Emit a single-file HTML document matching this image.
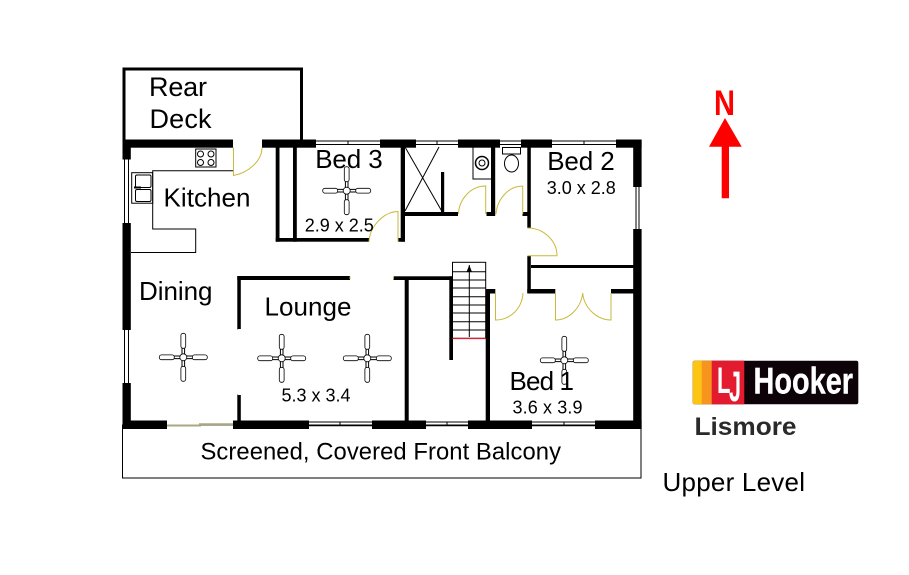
<!DOCTYPE html>
<html><head><meta charset="utf-8"><style>html,body{margin:0;padding:0;background:#fff}svg{display:block}text{font-family:"Liberation Sans",sans-serif;fill:#000}</style></head><body>
<svg xmlns="http://www.w3.org/2000/svg" width="909" height="575" viewBox="0 0 909 575">
<defs>
<g id="fan" fill="#fff" stroke="#000" stroke-width="0.8">
<path d="M0-10V10M-10 0H10" stroke-width="3.6"/><path d="M0-10V10M-10 0H10" stroke="#fff" stroke-width="1.6"/>
<rect x="-2.4" y="-24" width="4.8" height="15" rx="2.2"/><rect x="-2.4" y="9" width="4.8" height="15" rx="2.2"/>
<rect x="-24" y="-2.4" width="15" height="4.8" rx="2.2"/><rect x="9" y="-2.4" width="15" height="4.8" rx="2.2"/>
<circle r="3.5"/>
</g>
</defs>
<rect width="909" height="575" fill="#fff"/>
<!-- balcony -->
<rect x="122.5" y="425" width="518.5" height="53" fill="none" stroke="#000" stroke-width="1"/>
<!-- rear deck -->
<path d="M124 140V69H301.5V140" fill="none" stroke="#000" stroke-width="3"/>
<g fill="#000">
<!-- top wall -->
<rect x="122.5" y="139.5" width="110.5" height="8.2"/><rect x="262" y="139.5" width="54" height="8.2"/><rect x="380" y="139.5" width="36" height="8.2"/><rect x="458" y="139.5" width="42" height="8.2"/><rect x="521" y="139.5" width="31" height="8.2"/><rect x="616" y="139.5" width="25.6" height="8.2"/>
<!-- left wall -->
<rect x="122.5" y="139.5" width="8.3" height="20"/><rect x="122.5" y="223" width="8.3" height="107"/><rect x="122.5" y="383" width="8.3" height="46"/>
<!-- bottom wall -->
<rect x="122.5" y="420.5" width="44.5" height="8.5"/><rect x="233" y="420.5" width="76" height="8.5"/><rect x="372" y="420.5" width="54" height="8.5"/><rect x="468" y="420.5" width="64" height="8.5"/><rect x="595" y="420.5" width="46.6" height="8.5"/>
<!-- right wall -->
<rect x="633.2" y="139.5" width="8.4" height="47.5"/><rect x="633.2" y="229" width="8.4" height="200"/>
<!-- bed 3 -->
<rect x="275.7" y="147" width="3.8" height="94.7"/><rect x="293" y="147" width="3.8" height="94.7"/><rect x="275.7" y="238" width="93.3" height="3.7"/><rect x="398" y="238" width="7" height="3.7"/><rect x="400.7" y="147" width="4.3" height="94.7"/>
<!-- shower / baths -->
<rect x="405" y="212" width="53" height="4"/><rect x="441" y="172" width="3.2" height="42"/><rect x="491" y="147" width="4.2" height="69"/><rect x="486.5" y="212" width="8" height="4"/><rect x="527.3" y="147" width="3.5" height="81"/><rect x="522.5" y="212" width="8" height="4"/>
<!-- hall right -->
<rect x="527.3" y="256" width="3.5" height="37"/><rect x="531" y="265" width="102.5" height="3"/><rect x="527.3" y="289" width="28" height="4.5"/><rect x="611" y="289" width="22.5" height="4.5"/><rect x="485.7" y="289" width="9.6" height="4.5"/><rect x="485.7" y="289" width="4.3" height="132"/>
<!-- stair walls -->
<rect x="449.3" y="276.3" width="3.7" height="83.7"/><rect x="393.5" y="276.3" width="59.5" height="3.7"/><rect x="404.7" y="277" width="4" height="144"/>
<!-- lounge -->
<rect x="237.3" y="276" width="112.7" height="4"/><rect x="237.3" y="276" width="3.5" height="53"/><rect x="237.3" y="395" width="3.5" height="26"/>
<!-- arrows in stair -->
<path d="M469.3 265L466.5 272H472Z"/>
</g>
<!-- windows -->
<g stroke="#000" stroke-width="1" fill="none">
<path d="M316 141H380M316 144.5H380M348 141V144.5M416 141H458M416 144.5H458M437 141V144.5M500 141H521M500 144.5H521M552 141H616M552 144.5H616M584 141V144.5"/>
<path d="M124.5 159V223M128.5 159V223M124.5 330V383M128.5 330V383"/>
<path d="M636 187V229M639 187V229"/>
<path d="M309 422H372M309 425.8H372M340 422V425.8M426 422H468M426 425.8H468M447 422V425.8M532 422H595M532 425.8H595M564 422V425.8"/>
</g>
<path d="M167 425.5H200V424.3H233" fill="none" stroke="#a8a880" stroke-width="2"/>
<!-- kitchen benches -->
<g fill="none" stroke="#000" stroke-width="1">
<path d="M233 170.7H152.7V229H195.7V252.5H131"/>
<rect x="131.7" y="172.7" width="21" height="30.5"/>
<rect x="135.5" y="175" width="15.5" height="12.5" rx="1.5"/><rect x="135.5" y="189.5" width="15.5" height="12" rx="1.5"/>
<path d="M134 187.5H141" stroke-width="2"/>
<rect x="195.7" y="149" width="20.3" height="18"/>
<circle cx="200.5" cy="154" r="3"/><circle cx="211" cy="154" r="3"/><circle cx="200.5" cy="162.5" r="3"/><circle cx="211" cy="162.5" r="3"/>
<!-- shower X -->
<path d="M405 147L441.7 211M405 211L439 147"/>
<!-- basin -->
<path d="M473 147V179H491"/>
<circle cx="482" cy="163" r="6.5" stroke-width="1.5"/><circle cx="482" cy="163" r="3"/>
<!-- toilet -->
<rect x="502.5" y="147.5" width="18" height="6.5" fill="#fff"/><ellipse cx="511.5" cy="163.5" rx="7" ry="8.5"/>
<!-- stairs -->
<rect x="452.5" y="262.3" width="33.2" height="76"/>
<path d="M452.5 271.7H485.7M452.5 280H485.7M452.5 288H485.7M452.5 296.7H485.7M452.5 305H485.7M452.5 313H485.7M452.5 321.7H485.7M452.5 330H485.7M469.3 265V337"/>
</g>
<path d="M452.5 338.5H485.7" stroke="#e0202a" stroke-width="1.2"/>
<!-- doors -->
<g fill="none" stroke="#c9b93c" stroke-width="1">
<path d="M233.5 147.5V175.5C248 173 262 161 262 147.5"/>
<path d="M398 241.5V211.5C384 211.5 370 226 369 241.5"/>
<path d="M485.7 214V186C470 186 459 200 458.5 214"/>
<path d="M522.7 214V186C508 186 497 200 496 214"/>
<path d="M527.5 228C544 228 557 241 557 255.7H527.5"/>
<path d="M523 293C522 309 510 320 495.5 320V293"/>
<path d="M555.5 293V320C569 320 581 308 582.7 293C584 308 597 320 611 320V293"/>
</g>
<path d="M350 276.5V279M393.5 276.5V279M237.5 329V330M237.5 394V395" stroke="#c9b93c" stroke-width="1"/>
<!-- fans -->
<use href="#fan" x="346.7" y="190.7"/>
<use href="#fan" x="183.3" y="357.3"/>
<use href="#fan" x="281.7" y="358.3"/>
<use href="#fan" x="367.3" y="358.3"/>
<use href="#fan" x="564.3" y="360.3"/>
<!-- labels -->
<g font-size="26">
<text x="149" y="96" font-size="27" textLength="58" lengthAdjust="spacing">Rear</text>
<text x="149.5" y="128" font-size="27" textLength="62" lengthAdjust="spacing">Deck</text>
<text x="163.5" y="206.7" textLength="87" lengthAdjust="spacing">Kitchen</text>
<text x="315.2" y="168" textLength="67.5" lengthAdjust="spacing">Bed 3</text>
<text x="547.2" y="170" textLength="67.5" lengthAdjust="spacing">Bed 2</text>
<text x="139" y="300" textLength="73.5" lengthAdjust="spacing">Dining</text>
<text x="264.5" y="315.7" textLength="87" lengthAdjust="spacing">Lounge</text>
<text x="509.5" y="390" textLength="64.5" lengthAdjust="spacing">Bed 1</text>
<text x="662.5" y="491" textLength="142.5" lengthAdjust="spacing">Upper Level</text>
</g>
<g font-size="18">
<text x="304.8" y="231.7" textLength="69" lengthAdjust="spacing">2.9 x 2.5</text>
<text x="546.8" y="194" textLength="69" lengthAdjust="spacing">3.0 x 2.8</text>
<text x="281.5" y="401.7" textLength="69" lengthAdjust="spacing">5.3 x 3.4</text>
<text x="512.5" y="413.3" textLength="70" lengthAdjust="spacing">3.6 x 3.9</text>
</g>
<text x="200.5" y="459.3" font-size="23.8" textLength="360.5" lengthAdjust="spacing">Screened, Covered Front Balcony</text>
<!-- north arrow -->
<text x="714" y="115" font-size="35" font-weight="bold" style="fill:#f00" textLength="21" lengthAdjust="spacingAndGlyphs">N</text>
<path d="M725 118L741.7 146.7H729V198.3H721.7V146.7H709Z" fill="#f00"/>
<!-- logo -->
<rect x="692.7" y="360.7" width="165.6" height="43.6" rx="2" fill="#0c0208"/>
<path d="M695 360.7H703V404.3H695Q692.7 404.3 692.7 402V363Q692.7 360.7 695 360.7Z" fill="#fdc413"/>
<rect x="701.7" y="360.7" width="10.5" height="43.6" fill="#f7941d"/>
<rect x="711.7" y="360.7" width="32.6" height="43.6" fill="#e31b2f"/>
<text x="717" y="393" font-size="37" font-weight="bold" style="fill:#fff" textLength="13.5" lengthAdjust="spacingAndGlyphs">L</text>
<text x="729" y="401" font-size="43" font-weight="bold" style="fill:#fff" textLength="12" lengthAdjust="spacingAndGlyphs">J</text>
<text x="753.5" y="393.3" font-size="37" font-weight="bold" style="fill:#fff;stroke:#fff;stroke-width:.4" textLength="99.5" lengthAdjust="spacingAndGlyphs">Hooker</text>
<text x="694.5" y="435" font-size="25" font-weight="bold" style="fill:#2a2a2a" textLength="102" lengthAdjust="spacingAndGlyphs">Lismore</text>
</svg>
</body></html>
